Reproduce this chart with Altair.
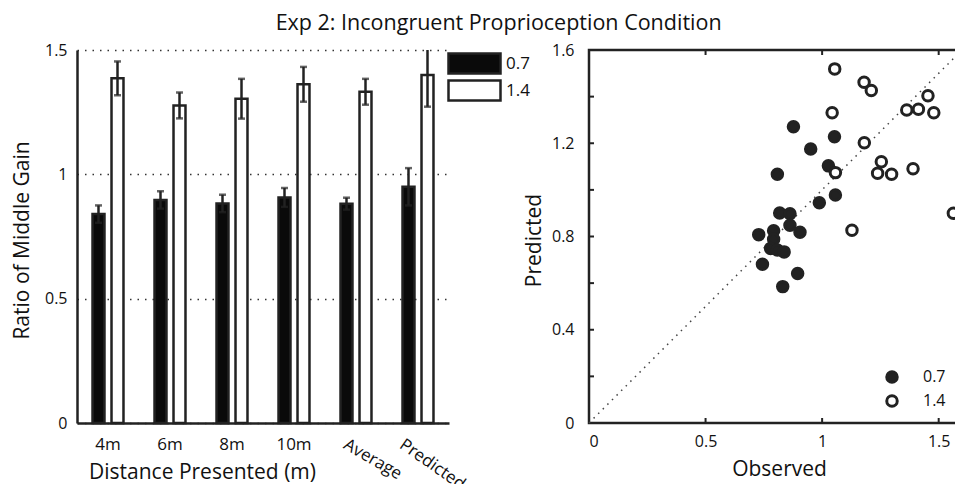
import altair as alt
import pandas as pd

# ---------------- data ----------------
categories = ["4m", "6m", "8m", "10m", "Average", "Predicted"]
gains = ["0.7", "1.4"]
mean_07 = [0.840, 0.897, 0.883, 0.907, 0.882, 0.950]
err_07 = [0.035, 0.035, 0.035, 0.038, 0.024, 0.075]
mean_14 = [1.386, 1.277, 1.304, 1.362, 1.332, 1.399]
err_14 = [0.068, 0.052, 0.080, 0.070, 0.052, 0.127]

obs_07 = [0.877, 0.951, 1.053, 0.808, 1.027, 1.057, 0.988, 0.818, 0.862, 0.862,
          0.728, 0.792, 0.905, 0.792, 0.779, 0.808, 0.837, 0.744, 0.895, 0.831]
pred_07 = [1.271, 1.175, 1.228, 1.067, 1.103, 0.978, 0.945, 0.901, 0.898, 0.848,
           0.808, 0.825, 0.818, 0.788, 0.749, 0.742, 0.734, 0.681, 0.641, 0.585]
obs_14 = [1.054, 1.180, 1.211, 1.043, 1.363, 1.413, 1.454, 1.479, 1.181, 1.254,
          1.238, 1.298, 1.057, 1.390, 1.128, 1.563]
pred_14 = [1.519, 1.462, 1.426, 1.331, 1.343, 1.346, 1.404, 1.331, 1.202, 1.121,
           1.071, 1.067, 1.074, 1.091, 0.827, 0.900]

bar_ticks = [0, 0.5, 1, 1.5]
sc_y_labels = [0, 0.4, 0.8, 1.2, 1.6]
sc_x_labels = [0, 0.5, 1, 1.5]
sc_y_minor = [0.2, 0.4, 0.6, 0.8, 1.0, 1.2, 1.4]
sc_x_minor = [0.5, 1.0, 1.5]
diag = [0, 1.6]

INK = "#222222"
FONT = "Open Sans"

# ---------------- left: bars ----------------
bar_df = pd.DataFrame({
    "Distance": categories * 2,
    "Gain": [gains[0]] * len(categories) + [gains[1]] * len(categories),
    "Mean": mean_07 + mean_14,
    "Lo": [m - e for m, e in zip(mean_07, err_07)] + [m - e for m, e in zip(mean_14, err_14)],
    "Hi": [m + e for m, e in zip(mean_07, err_07)] + [m + e for m, e in zip(mean_14, err_14)],
})

is_avg = "datum.value === 'Average'"
is_pred = "datum.value === 'Predicted'"
xb = alt.X("Distance:N", sort=categories,
           scale=alt.Scale(paddingInner=0.387, paddingOuter=0.1935),
           axis=alt.Axis(title="Distance Presented (m)", ticks=False, grid=False,
                         domainColor=INK, domainWidth=2.5,
                         labelAngle=alt.ExprRef(f"{is_avg} ? 30 : ({is_pred} ? 35 : 0)"),
                         labelAlign=alt.ExprRef(f"({is_avg} || {is_pred}) ? 'left' : 'center'"),
                         labelOffset=alt.ExprRef(f"{is_avg} ? -7 : ({is_pred} ? -12 : 0)"),
                         labelBaseline="top", labelOverlap=False,
                         labelPadding=13, labelFontSize=17,
                         titleFontSize=21, titleX=125, titleY=55,
                         titleBaseline="alphabetic"))
xo = alt.XOffset("Gain:N", sort=gains, scale=alt.Scale(paddingInner=0.37, paddingOuter=0.185))
yscale_b = alt.Scale(domain=[0, 1.5], nice=False)

bars = alt.Chart(bar_df).mark_bar(stroke=INK, strokeWidth=2.5).encode(
    x=xb, xOffset=xo,
    y=alt.Y("Mean:Q", scale=yscale_b,
            axis=alt.Axis(title="Ratio of Middle Gain", values=bar_ticks, format="~g",
                          grid=True, gridDash=[1.5, 6], gridColor="#333333", gridWidth=1.5,
                          ticks=False, domainColor=INK, domainWidth=2.5,
                          labelPadding=10, labelFontSize=16,
                          titleFontSize=21, titleX=-55, titleY=190,
                          titleBaseline="middle")),
    fill=alt.Fill("Gain:N", sort=gains,
                  scale=alt.Scale(domain=gains, range=["#0a0a0a", "#ffffff"]),
                  legend=alt.Legend(title=None, orient="none", legendX=386, legendY=2,
                                    symbolType="M-2.6,-1L2.6,-1L2.6,1L-2.6,1Z",
                                    symbolSize=400, symbolStrokeColor=INK,
                                    symbolStrokeWidth=2.5, labelFontSize=17,
                                    labelOffset=20, rowPadding=-7, padding=0)),
)
errs = alt.Chart(bar_df).mark_rule(color=INK, strokeWidth=2.5, clip=True).encode(
    x=alt.X("Distance:N", sort=categories), xOffset=alt.XOffset("Gain:N", sort=gains),
    y=alt.Y("Lo:Q", scale=yscale_b), y2="Hi:Q")
cap_lo = alt.Chart(bar_df).mark_tick(color=INK, thickness=2.5, size=7, clip=True).encode(
    x=alt.X("Distance:N", sort=categories), xOffset=alt.XOffset("Gain:N", sort=gains),
    y=alt.Y("Lo:Q", scale=yscale_b))
cap_hi = alt.Chart(bar_df).mark_tick(color=INK, thickness=2.5, size=7, clip=True).encode(
    x=alt.X("Distance:N", sort=categories), xOffset=alt.XOffset("Gain:N", sort=gains),
    y=alt.Y("Hi:Q", scale=yscale_b))

left = alt.layer(bars, errs, cap_lo, cap_hi).properties(width=372, height=373)

# ---------------- right: scatter ----------------
sc_df = pd.DataFrame({
    "Observed": obs_07 + obs_14,
    "Predicted": pred_07 + pred_14,
    "Gain": [gains[0]] * len(obs_07) + [gains[1]] * len(obs_14),
})
xs = alt.Scale(domain=[0, 1.6], nice=False)
ys = alt.Scale(domain=[0, 1.6], nice=False)

points = alt.Chart(sc_df).mark_circle(size=110, stroke=INK, strokeWidth=3, opacity=1).encode(
    x=alt.X("Observed:Q", scale=xs,
            axis=alt.Axis(title="Observed", values=sc_x_labels, format="~g", ticks=False,
                          domain=False, grid=False, labelPadding=10, labelFontSize=16,
                          titleFontSize=21, titleX=190, titleY=52,
                          titleBaseline="alphabetic")),
    y=alt.Y("Predicted:Q", scale=ys,
            axis=alt.Axis(title="Predicted", values=sc_y_labels, format="~g", ticks=False,
                          domain=False, grid=False, labelPadding=15, labelFontSize=16,
                          titleFontSize=21, titleX=-55, titleY=190,
                          titleBaseline="middle")),
    fill=alt.Fill("Gain:N", sort=gains,
                  scale=alt.Scale(domain=gains, range=[INK, "#ffffff"]),
                  legend=alt.Legend(title=None, orient="none", legendX=295, legendY=319,
                                    symbolType="circle", symbolSize=110,
                                    symbolStrokeColor=INK, symbolStrokeWidth=3,
                                    labelFontSize=16, labelOffset=23, rowPadding=0,
                                    padding=0)),
)

diag_df = pd.DataFrame({"dx": diag, "dy": diag})
diag_line = alt.Chart(diag_df).mark_line(color="#444444", strokeWidth=1.5,
                                         strokeDash=[1.5, 5]).encode(
    x=alt.X("dx:Q", scale=xs), y=alt.Y("dy:Q", scale=ys))

ytk = pd.DataFrame({"Predicted": sc_y_minor})
xtk = pd.DataFrame({"Observed": sc_x_minor})
tick_l = alt.Chart(ytk).mark_rule(color=INK, strokeWidth=2).encode(
    y=alt.Y("Predicted:Q", scale=ys), x=alt.value(0), x2=alt.value(5))
tick_r = alt.Chart(ytk).mark_rule(color=INK, strokeWidth=2).encode(
    y=alt.Y("Predicted:Q", scale=ys), x=alt.value(368), x2=alt.value(373))
tick_b = alt.Chart(xtk).mark_rule(color=INK, strokeWidth=2).encode(
    x=alt.X("Observed:Q", scale=xs), y=alt.value(368), y2=alt.value(373))
tick_t = alt.Chart(xtk).mark_rule(color=INK, strokeWidth=2).encode(
    x=alt.X("Observed:Q", scale=xs), y=alt.value(0), y2=alt.value(5))

right = alt.layer(diag_line, tick_l, tick_r, tick_b, tick_t, points).properties(
    width=373, height=373,
    view=alt.ViewBackground(stroke=INK, strokeWidth=2.5))

chart = alt.hconcat(left, right, spacing=140, bounds="flush").resolve_scale(
    fill="independent"
).properties(
    title=alt.TitleParams(text="Exp 2: Incongruent Proprioception Condition",
                          fontSize=21.5, font=FONT, fontWeight="normal", color="#111111",
                          anchor="middle", dx=10, offset=6),
    padding={"left": 3, "top": 5, "right": -12, "bottom": 0},
).configure(font=FONT).configure_view(strokeWidth=0).configure_axis(
    labelFont=FONT, titleFont=FONT, labelColor="#111111", titleColor="#111111",
    titleFontWeight="normal"
).configure_legend(labelFont=FONT, labelColor="#111111")

chart.save("out.html", embed_options={"renderer": "svg", "actions": False})
